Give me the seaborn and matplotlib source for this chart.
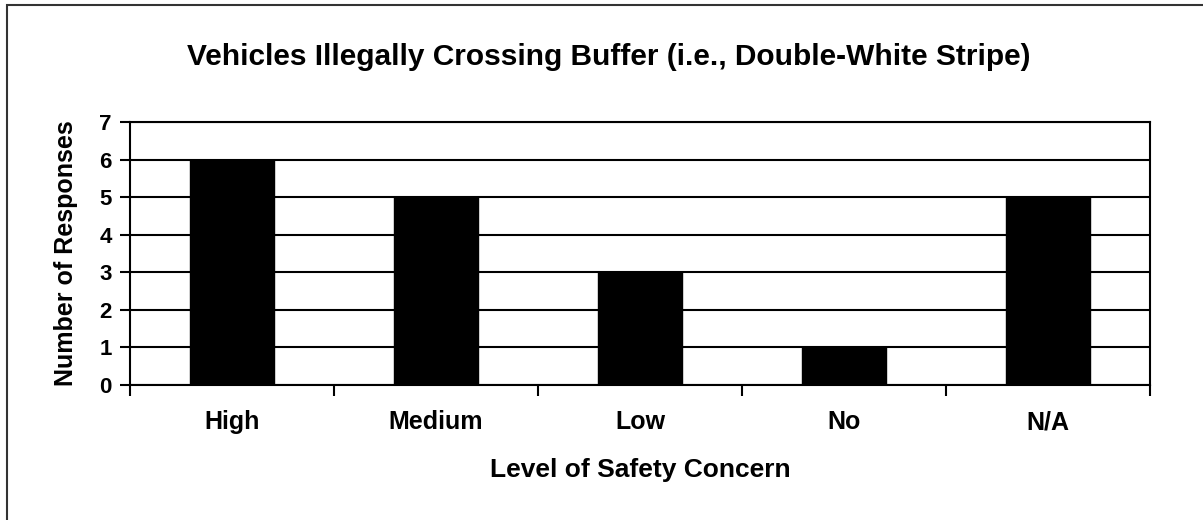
import pandas as pd
import matplotlib.pyplot as plt
import seaborn as sns
from matplotlib.patches import Rectangle

# data
categories = ["High", "Medium", "Low", "No", "N/A"]
responses = [6, 5, 3, 1, 5]

df = pd.DataFrame({"Level": categories, "Responses": responses})

sns.set_style("white")
plt.rcParams["font.family"] = ["Liberation Sans", "DejaVu Sans"]
plt.rcParams["font.weight"] = "bold"
plt.rcParams["text.color"] = "black"
plt.rcParams["axes.labelcolor"] = "black"
plt.rcParams["xtick.color"] = "black"
plt.rcParams["ytick.color"] = "black"

fig = plt.figure(figsize=(12.03, 5.2), dpi=100)
ax = fig.add_axes([0.1081, 0.2596, 0.8479, 0.5058])

sns.barplot(data=df, x="Level", y="Responses", color="black", width=0.41,
            saturation=1, edgecolor="black", linewidth=1, ax=ax, zorder=3)

ax.set_ylim(0, 7)
ax.set_xlim(-0.5, len(categories) - 0.5)
ax.set_yticks(range(0, 8))
ax.yaxis.grid(True, color="black", linewidth=1.5, zorder=0)
ax.set_axisbelow(True)

# category boundary ticks like the spreadsheet chart
ax.set_xticks([i - 0.5 for i in range(len(categories) + 1)], minor=False)
ax.set_xticklabels([])
ax.set_xticks(range(len(categories)), minor=True)
ax.set_xticklabels(categories, minor=True, fontsize=18, fontweight="bold", color="black")
ax.tick_params(axis="x", which="major", direction="out", length=8, width=1.5, color="black", bottom=True)
ax.tick_params(axis="x", which="minor", length=0, pad=18)
ax.tick_params(axis="y", direction="out", length=7, width=1.5, color="black", left=True,
               labelsize=16, pad=6, labelcolor="black")
for lbl in ax.get_yticklabels():
    lbl.set_fontweight("bold")

for side in ["left", "bottom", "right", "top"]:
    ax.spines[side].set_visible(True)
    ax.spines[side].set_color("black")
    ax.spines[side].set_linewidth(1.5)

ax.set_xlabel("Level of Safety Concern", fontsize=19, fontweight="bold", va="baseline", color="black")
ax.xaxis.set_label_coords(0.5, -0.35)
ax.set_ylabel("Number of Responses", fontsize=18, fontweight="bold", va="center", color="black")
ax.yaxis.set_label_coords(-0.063, 0.5)

fig.text(0.506, 1 - 65 / 520, "Vehicles Illegally Crossing Buffer (i.e., Double-White Stripe)",
         fontsize=21.5, fontweight="bold", ha="center", va="baseline", color="black")

# outer chart border (only top and left visible in the crop)
fig.patches.append(Rectangle((7 / 1203, -0.1), 1.2, (1 - 5 / 520) + 0.1,
                             transform=fig.transFigure, fill=False,
                             edgecolor="#333333", linewidth=1.5))

plt.savefig("out.png", dpi=100)
plt.close()
